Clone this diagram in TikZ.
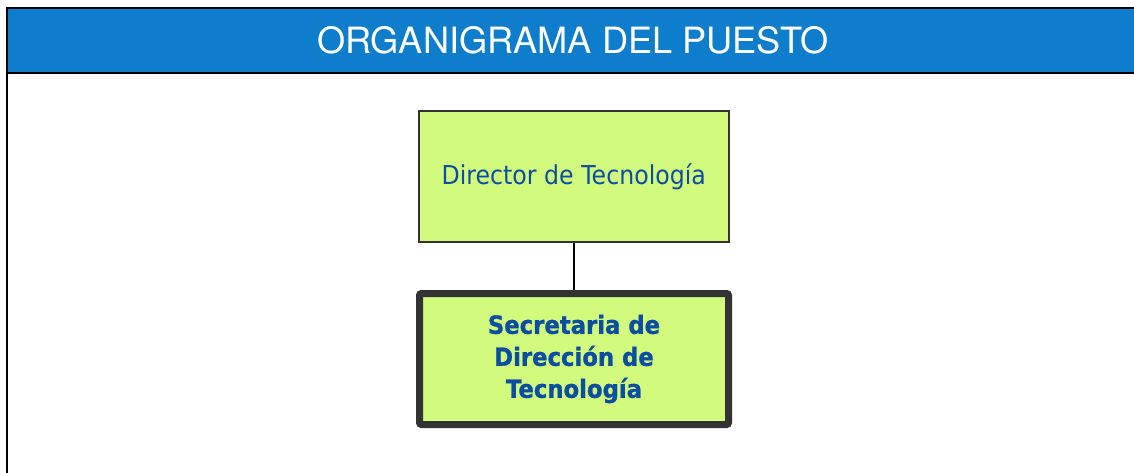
\documentclass[tikz,border=0pt]{standalone}
\usepackage{fontspec}
\setmainfont{Liberation Sans}
\newfontfamily\headfont{TeX Gyre Heros}
\newfontfamily\boxfont[FakeStretch=0.91]{DejaVu Sans}
\newfontfamily\boxboldfont[FakeStretch=0.91,FakeBold=1]{DejaVu Sans Bold}
\definecolor{headblue}{RGB}{14,126,204}
\definecolor{boxfill}{RGB}{210,250,125}
\definecolor{txtblue}{RGB}{10,78,162}
\definecolor{edge}{RGB}{51,51,51}
\tikzset{
  frameline/.style={line width=2.5pt, black},
  topbox/.style={draw=edge, line width=2.2pt, fill=boxfill, rectangle,
    minimum width=310pt, minimum height=131pt, inner sep=0pt,
    font=\boxfont\fontsize{26}{30}\selectfont, text=txtblue},
  mainbox/.style={draw=edge, line width=7pt, fill=boxfill, rectangle, rounded corners=2pt,
    minimum width=309pt, minimum height=131pt, inner sep=0pt, align=center,
    font=\boxboldfont\fontsize{25}{32}\selectfont, text=txtblue},
  link/.style={line width=2pt, black}
}
\begin{document}
\begin{tikzpicture}[x=1pt, y=-1pt]
\useasboundingbox (0,0) rectangle (1134,472);
% header band
\fill[headblue] (7,8) rectangle (1140,72.5);
\node (title) at (573,40) [text=white, font=\headfont\fontsize{36.2}{40}\selectfont, inner sep=0pt] {ORGANIGRAMA DEL PUESTO};
\draw[frameline] (1140,8) -- (7,8) -- (7,480);
\draw[line width=2pt] (7,72.5) -- (1140,72.5);
% boxes
\node[topbox] (dir) at (573.75,176.5) {Director de Tecnología};
\node[mainbox] (sec) at (574,359) {Secretaria de\\Dirección de\\Tecnología};
\draw[link] (dir.south -| 573.5,0) -- (sec.north -| 573.5,0);
\end{tikzpicture}
\end{document}
